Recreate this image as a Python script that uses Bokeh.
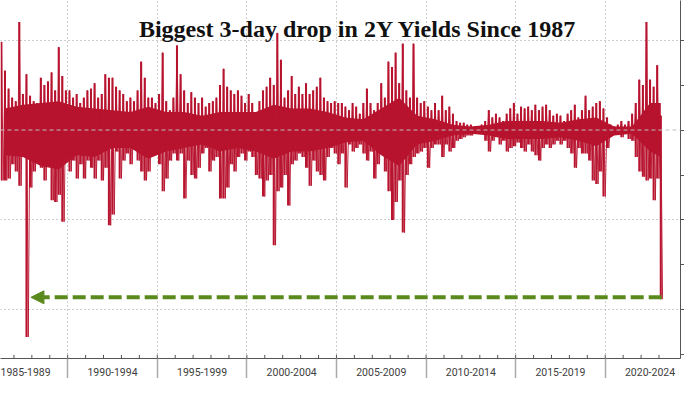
from bokeh.plotting import figure
from bokeh.models import FixedTicker, Range1d, Span, Arrow, NormalHead, Label
from bokeh.embed import file_html
from bokeh.resources import INLINE

title_text = "Biggest 3-day drop in 2Y Yields Since 1987"

# 3-day change in 2Y yield (pct pts): spike envelope, one pair per 0.2 year
start_year = 1986.3
step = 0.2
hi = [0.49, 0.33, 0.23, 0.18, 0.16, 0.60, 0.20, 0.31, 0.19, 0.16,
      0.15, 0.29, 0.25, 0.27, 0.32, 0.22, 0.46, 0.30, 0.22, 0.22,
      0.18, 0.20, 0.15, 0.18, 0.22, 0.23, 0.26, 0.18, 0.20, 0.31,
      0.29, 0.29, 0.24, 0.22, 0.20, 0.16, 0.18, 0.16, 0.22, 0.38,
      0.29, 0.18, 0.18, 0.15, 0.20, 0.43, 0.16, 0.11, 0.18, 0.47,
      0.31, 0.22, 0.15, 0.21, 0.18, 0.15, 0.18, 0.13, 0.15, 0.16,
      0.18, 0.25, 0.34, 0.24, 0.22, 0.20, 0.22, 0.19, 0.15, 0.20,
      0.15, 0.09, 0.16, 0.22, 0.24, 0.29, 0.25, 0.54, 0.39, 0.18,
      0.22, 0.30, 0.20, 0.24, 0.20, 0.26, 0.20, 0.22, 0.24, 0.29,
      0.18, 0.16, 0.15, 0.16, 0.15, 0.15, 0.13, 0.11, 0.15, 0.13,
      0.09, 0.15, 0.23, 0.15, 0.11, 0.15, 0.26, 0.18, 0.38, 0.35,
      0.43, 0.26, 0.48, 0.22, 0.18, 0.48, 0.18, 0.15, 0.16, 0.13,
      0.11, 0.15, 0.11, 0.19, 0.11, 0.13, 0.09, 0.05, 0.04, 0.04,
      0.03, 0.03, 0.02, 0.02, 0.03, 0.05, 0.11, 0.07, 0.09, 0.07,
      0.05, 0.09, 0.12, 0.15, 0.09, 0.13, 0.12, 0.13, 0.11, 0.14,
      0.11, 0.13, 0.14, 0.11, 0.08, 0.09, 0.08, 0.05, 0.09, 0.11,
      0.14, 0.07, 0.11, 0.19, 0.11, 0.13, 0.15, 0.16, 0.12, 0.07,
      0.03, 0.02, 0.03, 0.05, 0.03, 0.05, 0.09, 0.15, 0.28, 0.25,
      0.60, 0.28, 0.24, 0.36, 0.08]
lo = [-0.28, -0.28, -0.27, -0.19, -0.23, -0.31, -0.15, -1.15, -0.32, -0.23,
      -0.12, -0.21, -0.28, -0.19, -0.39, -0.40, -0.36, -0.51, -0.13, -0.23,
      -0.17, -0.27, -0.19, -0.27, -0.17, -0.21, -0.27, -0.17, -0.28, -0.21,
      -0.53, -0.47, -0.12, -0.27, -0.17, -0.13, -0.19, -0.10, -0.17, -0.23,
      -0.28, -0.23, -0.08, -0.13, -0.19, -0.34, -0.27, -0.17, -0.13, -0.17,
      -0.13, -0.38, -0.17, -0.25, -0.27, -0.21, -0.13, -0.10, -0.23, -0.17,
      -0.15, -0.38, -0.38, -0.32, -0.19, -0.23, -0.15, -0.13, -0.17, -0.12,
      -0.15, -0.25, -0.27, -0.37, -0.28, -0.25, -0.64, -0.34, -0.32, -0.25,
      -0.42, -0.19, -0.17, -0.13, -0.15, -0.21, -0.31, -0.17, -0.23, -0.25,
      -0.28, -0.15, -0.10, -0.13, -0.19, -0.13, -0.32, -0.08, -0.12, -0.10,
      -0.08, -0.13, -0.17, -0.12, -0.27, -0.19, -0.13, -0.23, -0.34, -0.50,
      -0.40, -0.28, -0.57, -0.25, -0.19, -0.15, -0.13, -0.12, -0.10, -0.21,
      -0.10, -0.08, -0.08, -0.15, -0.08, -0.12, -0.10, -0.06, -0.05, -0.04,
      -0.03, -0.03, -0.02, -0.02, -0.02, -0.06, -0.12, -0.06, -0.04, -0.08,
      -0.06, -0.12, -0.10, -0.09, -0.07, -0.10, -0.12, -0.08, -0.12, -0.14,
      -0.17, -0.10, -0.08, -0.10, -0.08, -0.06, -0.08, -0.06, -0.10, -0.13,
      -0.21, -0.10, -0.13, -0.13, -0.17, -0.28, -0.30, -0.23, -0.37, -0.10,
      -0.03, -0.02, -0.02, -0.04, -0.02, -0.05, -0.06, -0.15, -0.23, -0.26,
      -0.28, -0.27, -0.39, -0.27, -0.94]

# dense core band (typical daily range) per year
core_years = list(range(1986, 2024))
core_hi = [0.12, 0.14, 0.15, 0.16, 0.13, 0.12, 0.11, 0.10, 0.13, 0.10,
           0.10, 0.08, 0.10, 0.10, 0.10, 0.14, 0.12, 0.12, 0.10, 0.07,
           0.06, 0.12, 0.18, 0.08, 0.06, 0.03, 0.02, 0.03, 0.05, 0.05,
           0.05, 0.04, 0.06, 0.07, 0.02, 0.02, 0.15, 0.15]
core_lo = [-0.14, -0.15, -0.20, -0.22, -0.14, -0.15, -0.10, -0.10, -0.16, -0.12,
           -0.10, -0.08, -0.12, -0.10, -0.12, -0.16, -0.12, -0.12, -0.10, -0.07,
           -0.06, -0.14, -0.20, -0.08, -0.06, -0.03, -0.02, -0.03, -0.05, -0.05,
           -0.05, -0.04, -0.06, -0.09, -0.03, -0.02, -0.12, -0.15]

period_starts = [1985, 1990, 1995, 2000, 2005, 2010, 2015, 2020]
period_labels = ["1985-1989", "1990-1994", "1995-1999", "2000-2004",
                 "2005-2009", "2010-2014", "2015-2019", "2020-2024"]
years = list(range(1987, 2024))
y_ticks = [-1.25, -1.0, -0.75, -0.5, -0.25, 0.0, 0.25, 0.5]
y_grid = [-1.0, -0.5, 0.5]
arrow_level = -0.93
arrow_from = 2023.15
arrow_to = 1987.95

RED = "#B8142F"
GREEN = "#5A8A1E"

xs, ys, sx = [], [], []
for i, (h, l) in enumerate(zip(hi, lo)):
    t = start_year + step * i
    xs += [t, t + step / 2]
    ys += [h, l]
    sx.append(t)
core_x = [y + 0.5 for y in core_years]
core_x[-1] = start_year + step * (len(hi) - 1)

y0, y1 = -1.27, 0.72
p = figure(width=684, height=378, output_backend="svg", toolbar_location=None,
           x_range=Range1d(1986.25, 2024.2), y_range=Range1d(y0, y1),
           y_axis_location="right", min_border_left=0, min_border_top=0,
           min_border_right=0, min_border_bottom=0)
p.outline_line_color = None
p.background_fill_color = "white"

p.varea(x=core_x, y1=core_lo, y2=core_hi, fill_color=RED)
p.vbar(x=sx, top=hi, bottom=lo, width=0.115, fill_color=RED, line_color=None)
p.line(xs, ys, line_color=RED, line_width=0.9)

# small yearly ticks on the time axis
p.segment(x0=years, y0=[y0] * len(years), x1=years, y1=[y0 + 0.02] * len(years),
          line_color="#555555", line_width=1)

mids = [s + 2.5 for s in period_starts]
p.xaxis.ticker = FixedTicker(ticks=mids, minor_ticks=period_starts[1:])
p.xaxis.major_label_overrides = {m: lab for m, lab in zip(mids, period_labels)}
p.xaxis.major_tick_line_color = None
p.xaxis.major_tick_out = 0
p.xaxis.major_tick_in = 0
p.xaxis.minor_tick_out = 22
p.xaxis.minor_tick_in = 0
p.xaxis.minor_tick_line_color = "#aaaaaa"
p.xaxis.minor_tick_line_width = 1.5
p.xaxis.axis_line_color = "#555555"
p.xaxis.axis_label_standoff = 0
p.xaxis.major_label_text_font = "Roboto"
p.xaxis.major_label_text_font_size = "10.5px"
p.xaxis.major_label_text_color = "#404040"
p.xaxis.major_label_standoff = -13

p.yaxis.ticker = FixedTicker(ticks=y_ticks)
p.yaxis.major_label_overrides = {v: "" for v in y_ticks}
p.yaxis.major_label_standoff = 0
p.yaxis.major_tick_out = 4
p.yaxis.major_tick_in = 0
p.yaxis.minor_tick_line_color = None
p.yaxis.axis_line_color = "#555555"
p.yaxis.major_tick_line_color = "#555555"

p.xgrid.ticker = FixedTicker(ticks=period_starts[1:])
p.ygrid.ticker = FixedTicker(ticks=y_grid)
for g in (p.xgrid, p.ygrid):
    g.grid_line_color = "#9a9a9a"
    g.grid_line_dash = "1 3"
    g.grid_line_width = 1

p.add_layout(Span(location=0, dimension="width", line_color="#c0c0c0",
                  line_dash="4 3", line_width=1))

p.add_layout(Arrow(x_start=arrow_from, y_start=arrow_level, x_end=arrow_to, y_end=arrow_level,
                   line_color=GREEN, line_width=4, line_dash="13 5",
                   end=NormalHead(size=13, fill_color=GREEN, line_color=GREEN, line_width=1)))

p.add_layout(Label(x=2006.2, y=0.56, text=title_text, text_font="Liberation Serif",
                   text_font_style="bold", text_font_size="24px", text_align="center",
                   text_baseline="alphabetic", text_color="#111111"))

open("out.html", "w").write(file_html(p, INLINE))
